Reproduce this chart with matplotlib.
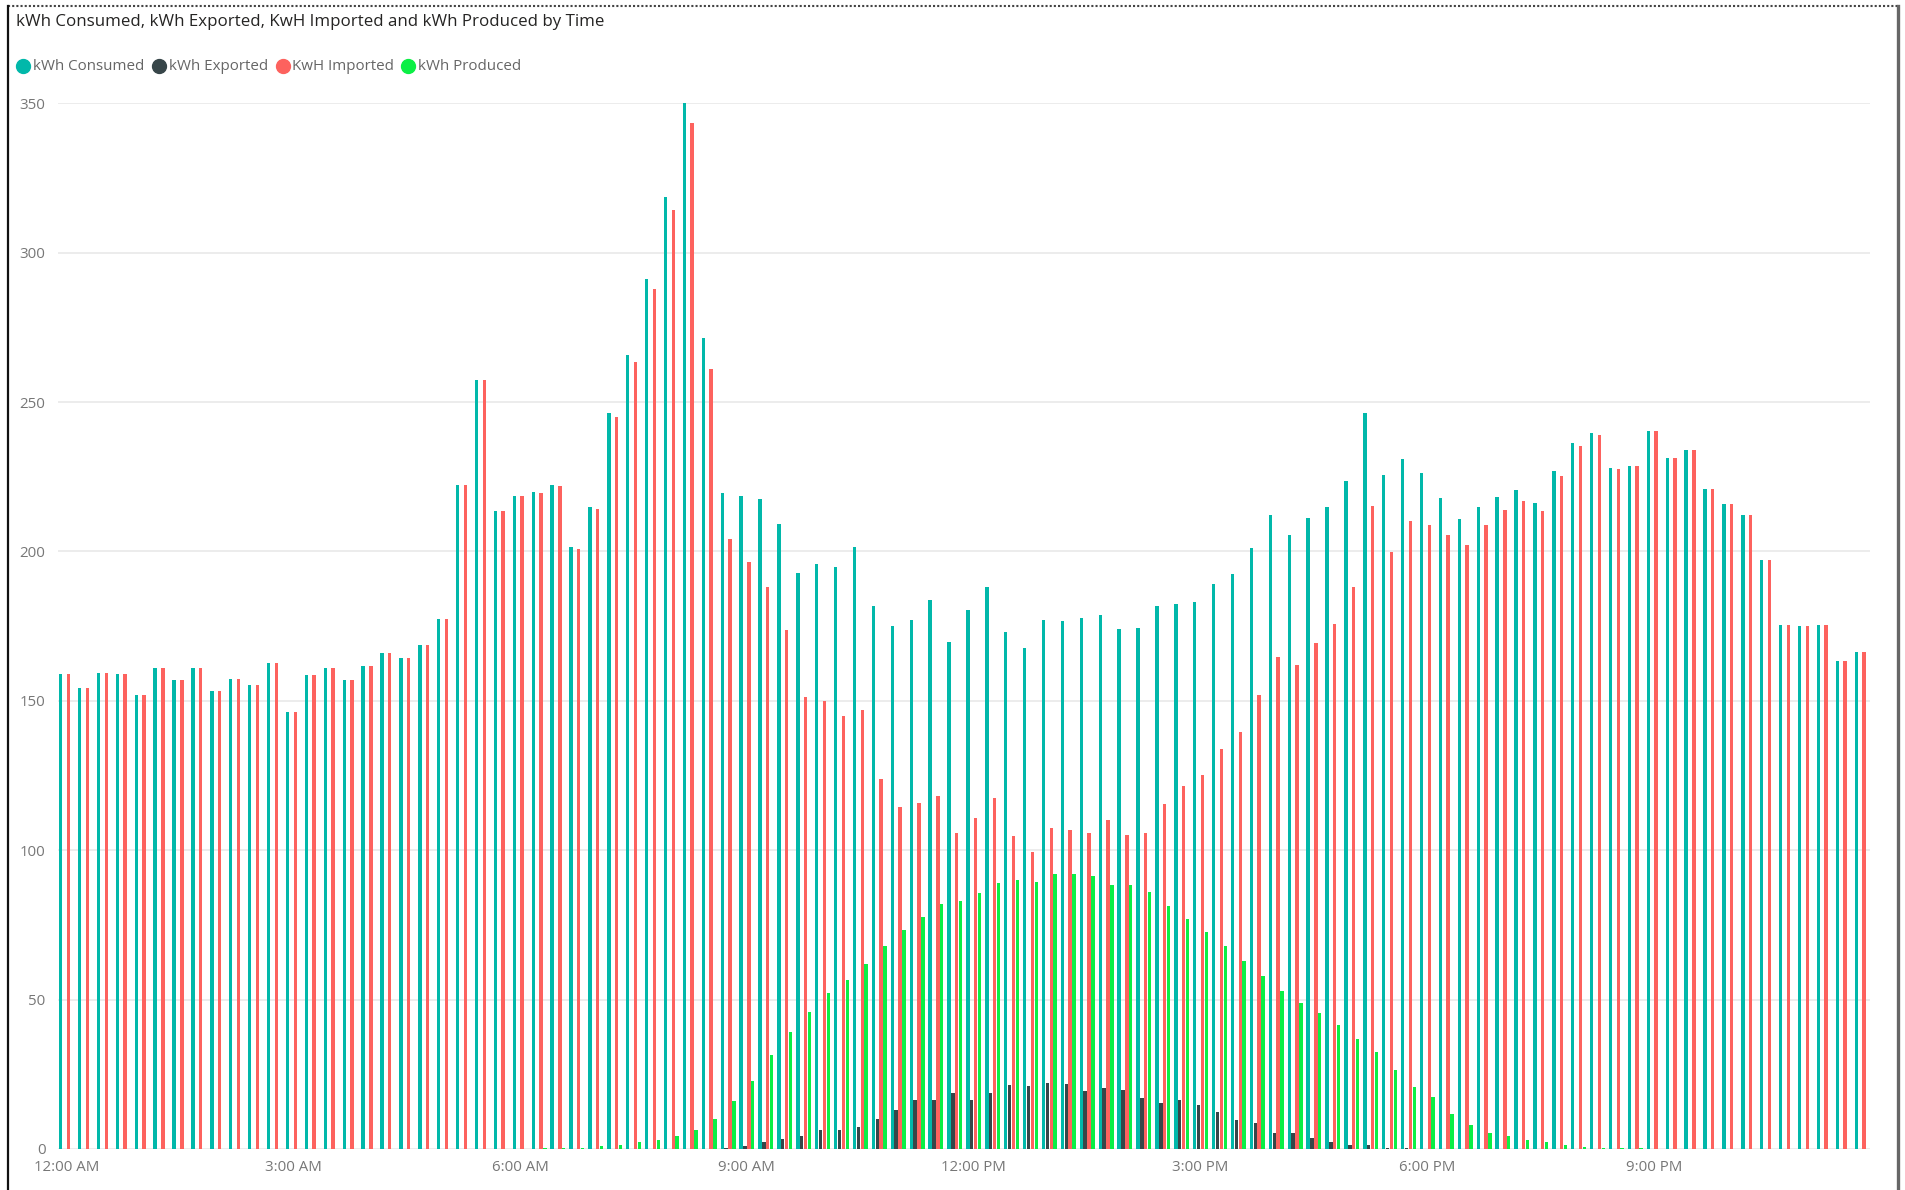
import matplotlib
matplotlib.use("Agg")
import matplotlib.pyplot as plt
from matplotlib.lines import Line2D
import numpy as np

# ---------------- data ----------------
times = [f"{(h % 12) or 12}:{m:02d} {'AM' if h < 12 else 'PM'}" for h in range(24) for m in (0, 15, 30, 45)]

consumed = [159.0, 154.4, 159.4, 159.0, 151.8, 161.0, 156.9, 161.0, 153.3, 157.2,
            155.3, 162.5, 146.3, 158.8, 161.0, 157.0, 161.7, 166.1, 164.5, 168.7,
            177.4, 222.2, 257.5, 213.5, 218.7, 219.9, 222.4, 201.4, 215.0, 246.5,
            265.8, 291.1, 318.6, 350.0, 271.3, 219.6, 218.4, 217.7, 209.3, 192.8,
            195.7, 194.9, 201.4, 181.7, 174.9, 177.2, 183.8, 169.6, 180.4, 188.0,
            173.2, 167.7, 177.1, 176.8, 177.8, 178.6, 173.9, 174.5, 181.7, 182.3,
            183.0, 189.1, 192.6, 201.0, 212.2, 205.4, 211.2, 215.0, 223.7, 246.3,
            225.5, 230.8, 226.2, 217.8, 210.8, 214.8, 218.3, 220.5, 216.2, 226.8,
            236.2, 239.7, 227.8, 228.5, 240.2, 231.2, 234.0, 221.0, 215.8, 212.2,
            197.2, 175.3, 175.2, 175.3, 163.3, 166.2]

exported = [0.0] * 35 + [0.3, 1.0, 2.2, 3.5, 4.3, 6.5, 6.5, 7.2, 10.0, 13.0,
            16.4, 16.4, 18.8, 16.4, 18.6, 21.4, 21.0, 22.2, 21.7, 19.4,
            20.3, 19.6, 17.1, 15.5, 16.4, 14.8, 12.3, 9.7, 8.8, 5.4,
            5.3, 3.6, 2.5, 1.3, 1.3, 0.3, 0.2, 0.1] + [0.0] * 23

imported = [159.0, 154.4, 159.4, 159.0, 151.8, 161.0, 156.9, 161.0, 153.3, 157.2,
            155.3, 162.5, 146.3, 158.8, 161.0, 157.0, 161.7, 166.1, 164.5, 168.7,
            177.4, 222.2, 257.5, 213.5, 218.7, 219.7, 222.0, 200.9, 214.1, 245.1,
            263.5, 288.0, 314.4, 343.5, 261.2, 204.2, 196.4, 188.1, 173.6, 151.2,
            150.0, 144.9, 147.1, 123.9, 114.5, 115.9, 118.1, 105.8, 110.9, 117.4,
            104.8, 99.3, 107.5, 106.8, 105.9, 110.1, 105.1, 105.8, 115.5, 121.6,
            125.2, 133.8, 139.6, 151.9, 164.7, 162.0, 169.2, 175.7, 188.2, 215.2,
            199.7, 210.2, 208.7, 205.5, 202.2, 208.8, 213.8, 217.0, 213.7, 225.3,
            235.2, 239.0, 227.7, 228.5, 240.2, 231.2, 234.0, 221.0, 215.8, 212.2,
            197.2, 175.3, 175.2, 175.3, 163.3, 166.2]

produced = [0.0] * 25 + [0.3, 0.4, 0.5, 0.9, 1.4, 2.3, 3.1, 4.5, 6.5, 10.1,
            15.9, 22.9, 31.6, 39.0, 45.9, 52.2, 56.5, 62.0, 68.0, 73.3,
            77.7, 81.9, 82.9, 85.8, 89.1, 89.9, 89.4, 92.0, 92.0, 91.3,
            88.4, 88.4, 86.1, 81.4, 77.1, 72.5, 68.0, 62.8, 58.0, 52.8,
            48.8, 45.5, 41.5, 36.8, 32.3, 26.5, 20.8, 17.3, 11.8, 8.2,
            5.5, 4.2, 3.0, 2.2, 1.3, 0.7, 0.5, 0.3, 0.2, 0.1] + [0.0] * 11

series_names = ["kWh Consumed", "kWh Exported", "KwH Imported", "kWh Produced"]
series_colors = ["#01B8AA", "#374649", "#FD625E", "#0BEF45"]
title = "kWh Consumed, kWh Exported, KwH Imported and kWh Produced by Time"
yticks = [0, 50, 100, 150, 200, 250, 300, 350]
xtick_labels = ["12:00 AM", "3:00 AM", "6:00 AM", "9:00 AM",
                "12:00 PM", "3:00 PM", "6:00 PM", "9:00 PM"]

# ---------------- figure ----------------
plt.rcParams['font.family'] = ['Open Sans', 'DejaVu Sans']
W, H = 1906, 1190
fig = plt.figure(figsize=(W / 100, H / 100), dpi=100)
fig.patch.set_facecolor("white")

ax = fig.add_axes([58 / W, 41 / H, 1812 / W, 1045.7 / H])
x = np.arange(len(times))
pitch = 0.205
bw = 0.18
for i, (vals, col, name) in enumerate(zip([consumed, exported, imported, produced],
                                          series_colors, series_names)):
    ax.bar(x + (i - 1.5) * pitch, vals, width=bw, color=col, label=name,
           zorder=3, linewidth=0)

ax.set_xlim(-0.45, 95.42)
ax.set_ylim(0, 350)
ax.set_yticks(yticks)
ax.set_yticklabels([str(v) for v in yticks])
ax.set_xticks(x[::12])
ax.set_xticklabels(xtick_labels)
ax.grid(axis="y", color="#EAEAEA", linewidth=1.3, zorder=0)
ax.grid(axis="x", visible=False)
for s in ax.spines.values():
    s.set_visible(False)
ax.tick_params(axis="both", length=0, colors="#777777", labelsize=10.8)
ax.tick_params(axis="y", pad=9)
ax.tick_params(axis="x", pad=8)

# title
fig.text(16 / W, 1 - 22 / H, title, fontsize=12.2, color="#252423",
         ha="left", va="center")

# legend (manual, Power BI style)
leg_marker_x = [23, 159, 283, 408]
leg_text_x = [33, 169, 292, 418]
for mx, tx, name, col in zip(leg_marker_x, leg_text_x, series_names, series_colors):
    fig.add_artist(Line2D([mx / W], [1 - 66 / H], marker="o", markersize=10,
                          color=col, linestyle="none", transform=fig.transFigure))
    fig.text(tx / W, 1 - 66 / H, name, fontsize=10.9, color="#666666",
             ha="left", va="center")

# outer frame
fig.add_artist(Line2D([8 / W, 1898 / W], [1 - 5.5 / H, 1 - 5.5 / H],
                      color="#444444", linewidth=1.5, linestyle=(0, (1, 1)),
                      transform=fig.transFigure))
fig.add_artist(Line2D([8 / W, 8 / W], [0, 1 - 5.5 / H], color="#111111",
                      linewidth=1.6, transform=fig.transFigure))
fig.add_artist(Line2D([1898 / W, 1898 / W], [0, 1 - 5.5 / H], color="#666666",
                      linewidth=2.4, transform=fig.transFigure))

fig.savefig("out.png", dpi=100, facecolor="white")
